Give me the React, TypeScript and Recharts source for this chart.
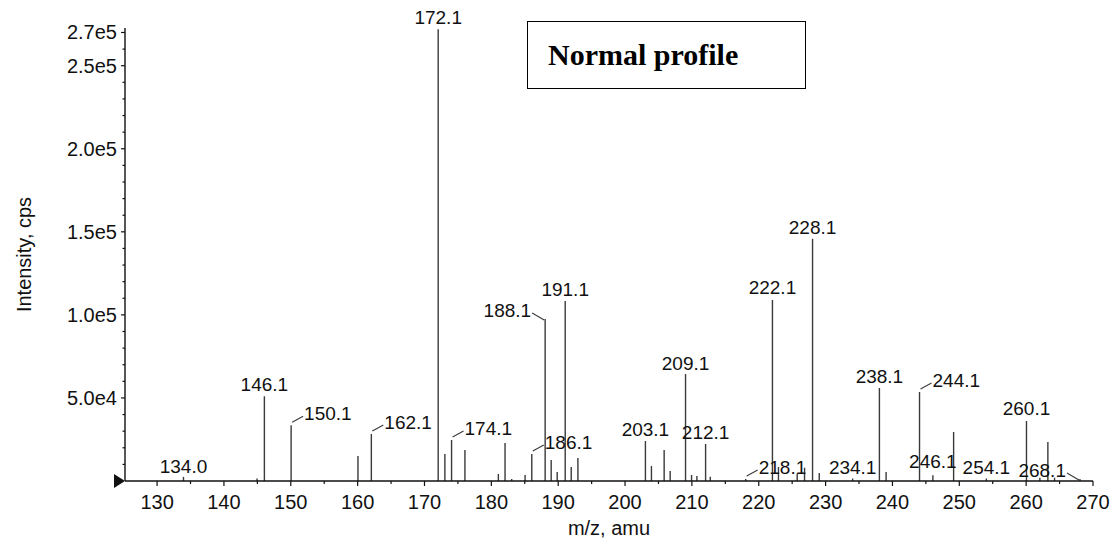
import React from "react";
import { ComposedChart, Bar, XAxis, YAxis, LabelList, ReferenceDot, Label } from "recharts";

// ---- data ----
const peakMz = [
  134.0, 145.0, 146.1, 150.1, 160.1, 162.1, 172.1, 173.1, 174.1, 176.1, 181.1, 182.1, 183.1, 185.1,
  186.1, 188.1, 189.0, 189.9, 191.1, 192.0, 193.0, 203.1, 204.0, 205.9, 206.8, 209.1, 210.0, 210.8,
  212.1, 212.8, 218.1, 222.1, 223.0, 225.8, 226.9, 228.1, 229.1, 234.1, 238.1, 239.1, 244.1, 246.1,
  249.2, 254.1, 260.1, 262.1, 263.3, 264.3, 268.1,
];
const peakIntensity = [
  2500, 1500, 51000, 33500, 15000, 28300, 272000, 16300, 24700, 18700, 4200, 22900, 1200, 3600,
  16300, 97500, 12600, 5400, 108400, 8400, 13900, 24100, 9000, 18700, 6000, 64400, 3600, 3000,
  22300, 2500, 1200, 109000, 8400, 4500, 8000, 145800, 4800, 1500, 56000, 5400, 53600, 3500,
  29500, 1500, 36100, 2000, 23500, 2000, 1200,
];
const labelledMz = [
  134.0, 146.1, 150.1, 162.1, 172.1, 174.1, 186.1, 188.1, 191.1, 203.1, 209.1, 212.1, 218.1,
  222.1, 228.1, 234.1, 238.1, 244.1, 246.1, 254.1, 260.1, 268.1,
];
const xTicks = [130, 140, 150, 160, 170, 180, 190, 200, 210, 220, 230, 240, 250, 260, 270];
const xMinorTicks = [135, 145, 155, 165, 175, 185, 195, 205, 215, 225, 235, 245, 255, 265];
const yTickValues = [50000, 100000, 150000, 200000, 250000, 270000];
const yTickLabels = ["5.0e4", "1.0e5", "1.5e5", "2.0e5", "2.5e5", "2.7e5"];
const yMinorTicks = [
  10000, 20000, 30000, 40000, 60000, 70000, 80000, 90000, 110000, 120000, 130000, 140000, 160000,
  170000, 180000, 190000, 210000, 220000, 230000, 240000, 260000,
];
const xTitle = "m/z, amu";
const yTitle = "Intensity, cps";
const boxTitle = "Normal profile";

// ---- label placement (style only) ----
const rightLeader = [150.1, 162.1, 174.1, 186.1, 218.1, 244.1];
const leftLeader = [188.1, 268.1];
const labelDy: Record<string, number> = { "246.1": -7, "134.0": -4, "209.1": -4, "222.1": -6, "260.1": -6 };

const chartData = peakMz.map((mz, i) => ({
  mz,
  intensity: peakIntensity[i],
  label: labelledMz.includes(mz) ? mz.toFixed(1) : "",
}));

const ink = "#111";
const stick = "#3a3a3a";
const sans = "'Liberation Sans', Arial, Helvetica, sans-serif";

const StickShape = (props: any) => {
  const { x, y, width, height } = props;
  const cx = x + width / 2;
  return <line x1={cx} x2={cx} y1={y} y2={y + height} stroke={stick} strokeWidth={1.4} />;
};

const PeakLabel = (props: any) => {
  const { x, y, width, value } = props;
  if (!value) return null;
  const px = x + width / 2;
  const mz = parseFloat(value);
  const txt = { fontFamily: sans, fontSize: 19, fill: ink };
  if (rightLeader.includes(mz)) {
    return (
      <g>
        <line x1={px + 1} y1={y - 3} x2={px + 12} y2={y - 9} stroke={stick} strokeWidth={1.1} />
        <text x={px + 13} y={y - 5} textAnchor="start" {...txt}>{value}</text>
      </g>
    );
  }
  if (leftLeader.includes(mz)) {
    return (
      <g>
        <line x1={px - 13} y1={y - 6} x2={px - 1} y2={y + 1} stroke={stick} strokeWidth={1.1} />
        <text x={px - 14} y={y - 2} textAnchor="end" {...txt}>{value}</text>
      </g>
    );
  }
  const dy = labelDy[value] ?? -5;
  return (
    <text x={px} y={y + dy} textAnchor="middle" {...txt}>{value}</text>
  );
};

const XTick = (props: any) => {
  const { x, y, payload } = props;
  const major = xTicks.includes(payload.value);
  return (
    <g>
      <line x1={x} x2={x} y1={y} y2={y + (major ? 5 : 3)} stroke={ink} strokeWidth={1.2} />
      {major && (
        <text x={x} y={y + 28} textAnchor="middle" fontFamily={sans} fontSize={20} fill={ink}>
          {payload.value}
        </text>
      )}
    </g>
  );
};

const YTick = (props: any) => {
  const { x, y, payload } = props;
  const idx = yTickValues.indexOf(payload.value);
  const major = idx >= 0;
  return (
    <g>
      <line x1={x - (major ? 4 : 2.5)} x2={x} y1={y} y2={y} stroke={ink} strokeWidth={1.2} />
      {major && (
        <text x={x - 8} y={y} dy="0.35em" textAnchor="end" fontFamily={sans} fontSize={20} fill={ink}>
          {yTickLabels[idx]}
        </text>
      )}
    </g>
  );
};

const Triangle = (props: any) => {
  const { cx, cy } = props;
  return <polygon points={`${cx - 11},${cy - 7} ${cx - 11},${cy + 7} ${cx},${cy}`} fill={ink} />;
};

const YTitle = (props: any) => {
  const { viewBox } = props;
  const cx = viewBox.x + 14;
  const cy = viewBox.y + viewBox.height / 2;
  return (
    <text x={cx} y={cy} transform={`rotate(-90 ${cx} ${cy})`} textAnchor="middle" dominantBaseline="central"
      fontFamily={sans} fontSize={20} fill={ink}>
      {yTitle}
    </text>
  );
};

const XTitle = (props: any) => {
  const { viewBox } = props;
  const cx = viewBox.x + viewBox.width / 2;
  return (
    <text x={cx} y={viewBox.y + 54} textAnchor="middle" fontFamily={sans} fontSize={20} fill={ink}>
      {xTitle}
    </text>
  );
};

export default function App() {
  return (
    <div style={{ position: "absolute", left: 0, top: 0, width: 1117, height: 541, background: "#fff" }}>
      <ComposedChart
        width={1117}
        height={541}
        data={chartData}
        margin={{ top: 28, right: 24, bottom: 0, left: 10 }}
      >
        <XAxis
          dataKey="mz"
          type="number"
          domain={[125.2, 270]}
          ticks={[...xTicks, ...xMinorTicks].sort((a, b) => a - b)}
          interval={0}
          tickSize={0}
          tickMargin={0}
          tick={<XTick />}
          height={60}
          axisLine={{ stroke: ink, strokeWidth: 1.4 }}
          allowDataOverflow
        >
          <Label content={<XTitle />} />
        </XAxis>
        <YAxis
          type="number"
          domain={[0, 272700]}
          ticks={[...yMinorTicks, ...yTickValues].sort((a, b) => a - b)}
          interval={0}
          tickSize={0}
          tickMargin={0}
          tick={<YTick />}
          width={115}
          axisLine={{ stroke: ink, strokeWidth: 1.4 }}
          allowDataOverflow
        >
          <Label content={<YTitle />} />
        </YAxis>
        <Bar dataKey="intensity" barSize={2} shape={<StickShape />} isAnimationActive={false}>
          <LabelList dataKey="label" content={<PeakLabel />} />
        </Bar>
        <ReferenceDot x={125.2} y={0} shape={<Triangle />} ifOverflow="visible" />
      </ComposedChart>
      <div
        style={{
          position: "absolute",
          left: 527,
          top: 21,
          width: 279,
          height: 68,
          border: "1.5px solid #000",
          fontFamily: "'Liberation Serif', 'Times New Roman', serif",
          fontWeight: "bold",
          fontSize: 30,
          lineHeight: "66px",
          paddingLeft: 20,
          boxSizing: "border-box",
          color: "#000",
        }}
      >
        {boxTitle}
      </div>
    </div>
  );
}
